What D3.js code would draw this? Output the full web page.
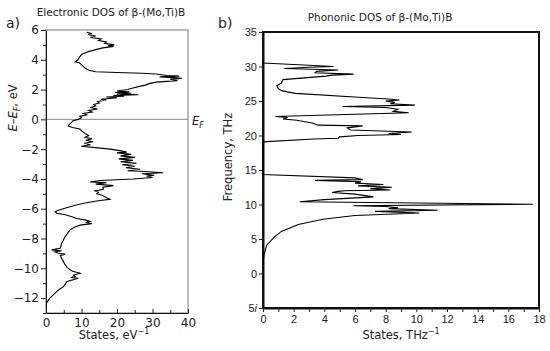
<!DOCTYPE html>
<html>
<head>
<meta charset="utf-8">
<script src="https://cdn.jsdelivr.net/npm/d3@7"></script>
<style>
  body { margin: 0; background: #fff; }
  svg { display: block; }
  .lbl { font-family: "DejaVu Sans", Verdana, sans-serif; fill: #222; }
</style>
</head>
<body>
<div id="chart"></div>
<script>
// Electronic DOS: [energy E-EF (eV), states (1/eV)], read top to bottom
const electronicDos = [
  [5.85, 11.5], [5.75, 13], [5.7, 11.8], [5.6, 14], [5.5, 12.5], [5.4, 15.5], [5.3, 14.8],
  [5.2, 17], [5.1, 16.5], [5.0, 19.2], [4.95, 17.5], [4.9, 19], [4.8, 16], [4.7, 14.3],
  [4.55, 12], [4.35, 10], [4.2, 9.5], [4.0, 9], [3.85, 8.2], [3.8, 9.4], [3.6, 10.3],
  [3.45, 11], [3.3, 12], [3.2, 14], [3.15, 20], [3.1, 27], [3.05, 31], [2.95, 34],
  [2.9, 37.5], [2.85, 32], [2.8, 36], [2.75, 38.2], [2.7, 35], [2.6, 37], [2.5, 31],
  [2.4, 29], [2.3, 28], [2.2, 26], [2.1, 24.5], [2.0, 23], [1.9, 20], [1.85, 23.5],
  [1.8, 19.5], [1.75, 24], [1.7, 20], [1.65, 26], [1.6, 19], [1.55, 22], [1.5, 17],
  [1.45, 20], [1.35, 15.5], [1.3, 17], [1.2, 14.5], [1.1, 15], [1.0, 13.5], [0.9, 14],
  [0.8, 12.5], [0.7, 14.5], [0.6, 12], [0.5, 13], [0.4, 10.5], [0.3, 11.5], [0.2, 9.5],
  [0.1, 10], [0.0, 9], [-0.1, 7.5], [-0.2, 7.2], [-0.35, 6.5], [-0.45, 6.3], [-0.55, 7.5],
  [-0.65, 9.5], [-0.8, 10.2], [-0.95, 11], [-1.1, 12], [-1.2, 11], [-1.3, 13], [-1.4, 11.2],
  [-1.5, 13.2], [-1.6, 10.8], [-1.7, 12.5], [-1.8, 9.9], [-1.9, 14], [-2.0, 18], [-2.1, 20.8],
  [-2.2, 22.7], [-2.25, 20], [-2.35, 24], [-2.45, 21], [-2.55, 25], [-2.65, 20.5],
  [-2.75, 24.5], [-2.85, 21], [-2.95, 25.5], [-3.05, 21.5], [-3.15, 25], [-3.25, 22.5],
  [-3.35, 26.5], [-3.45, 23], [-3.5, 28], [-3.58, 33], [-3.65, 27], [-3.75, 30.5],
  [-3.8, 28.3], [-3.9, 30], [-4.0, 24.6], [-4.1, 15.2], [-4.2, 12.4], [-4.25, 17],
  [-4.35, 14], [-4.45, 19], [-4.55, 16], [-4.7, 16.2], [-4.8, 13.8], [-4.9, 14.8],
  [-5.0, 14.3], [-5.1, 15.8], [-5.26, 17.1], [-5.37, 18], [-5.45, 15.2], [-5.6, 11.4],
  [-5.75, 8.5], [-5.93, 5.8], [-6.1, 3.5], [-6.2, 2.6], [-6.3, 3], [-6.4, 5.5], [-6.55, 7.5],
  [-6.65, 8.6], [-6.75, 11], [-6.85, 12.4], [-6.92, 11.2], [-7.0, 12.9], [-7.1, 9.6],
  [-7.25, 8], [-7.42, 6.8], [-7.6, 6.2], [-7.87, 5.4], [-8.1, 4.9], [-8.32, 4.4],
  [-8.5, 4.2], [-8.65, 4], [-8.76, 1.6], [-8.82, 4.4], [-8.9, 2.5], [-8.99, 3.5],
  [-9.05, 5.4], [-9.15, 4], [-9.32, 4.4], [-9.5, 4.8], [-9.77, 5.4], [-9.95, 6],
  [-10.1, 6.8], [-10.2, 7.5], [-10.33, 9.6], [-10.45, 7.8], [-10.55, 8.2], [-10.62, 7],
  [-10.67, 9.1], [-10.9, 5.8], [-11.05, 5.5], [-11.23, 4.9], [-11.4, 3.8], [-11.56, 3],
  [-11.8, 2], [-12.0, 1.1], [-12.2, 0.5], [-12.35, 0.1]
];

// Phononic DOS: [frequency (THz), states (1/THz)], read top to bottom
const phononicDos = [
  [30.5, 0], [30.0, 4.6], [29.9, 3], [29.7, 1.4], [29.5, 4.9], [29.3, 3.5], [29.1, 3.4],
  [28.9, 5.9], [28.75, 4.5], [28.6, 4.1], [28.1, 1.3], [27.6, 1.2], [27.2, 0.9], [26.8, 1.0],
  [26.5, 1.2], [26.1, 2.1], [25.5, 6.5], [25.3, 8.2], [25.15, 8.9], [25.0, 8.0], [24.8, 8.6],
  [24.6, 8.3], [24.4, 9.9], [24.2, 5.2], [24.05, 8.0], [23.8, 8.8], [23.5, 8.5], [23.3, 9.5],
  [22.75, 0.8], [22.6, 1.6], [22.4, 1.3], [22.2, 2.2], [21.8, 3.2], [21.5, 3.6], [21.4, 6.5],
  [21.1, 5.5], [20.8, 5.7], [20.5, 9.7], [20.3, 8.2], [20.14, 9.0], [20.0, 6.2], [19.8, 5.0],
  [19.6, 4.9], [19.5, 3.3], [19.08, 0], [14.35, 0], [13.86, 6.0], [13.6, 6.5], [13.5, 3.4],
  [13.3, 6.4], [13.1, 6.0], [12.9, 7.85], [12.7, 6.2], [12.5, 8.4], [12.3, 7.0], [12.1, 8.3],
  [12.0, 5.3], [11.9, 4.9], [11.75, 4.5], [11.5, 6.0], [11.1, 7.2], [10.7, 4.0], [10.4, 2.4],
  [10.04, 17.6], [9.82, 5.9], [9.7, 8.0], [9.54, 8.8], [9.4, 8.2], [9.17, 11.4], [9.0, 7.3],
  [8.76, 10.2], [8.4, 6.0], [7.87, 3.9], [7.1, 2.3], [6.1, 1.2], [5.3, 0.75], [4.1, 0.24],
  [2.67, 0.06], [1.2, 0]
];

// Tick values
const elecXTicks = [0, 10, 20, 30, 40];
const elecXMinor = [5, 15, 25, 35];
const elecYTicks = [-12, -10, -8, -6, -4, -2, 0, 2, 4, 6];
const elecYMinor = [-13, -11, -9, -7, -5, -3, -1, 1, 3, 5];
const phonXTicks = d3.range(0, 19, 1);
const phonYTicks = [-5, 0, 5, 10, 15, 20, 25, 30, 35];

const W = 550, H = 351;
const svg = d3.select("#chart").append("svg").attr("width", W).attr("height", H);

// ---------- panel a ----------
const ax = d3.scaleLinear().domain([0, 40]).range([46, 188]);
const ay = d3.scaleLinear().domain([-13, 6]).range([313, 30]);
const aFont = '"DejaVu Sans", Verdana, sans-serif';

// frame
svg.append("rect")
  .attr("x", ax(0)).attr("y", ay(6))
  .attr("width", ax(40) - ax(0)).attr("height", ay(-13) - ay(6))
  .attr("fill", "none").attr("stroke", "#777").attr("stroke-width", 1);

// Fermi level
svg.append("line")
  .attr("x1", ax(0)).attr("x2", ax(40))
  .attr("y1", ay(0)).attr("y2", ay(0))
  .attr("stroke", "#888").attr("stroke-width", 1);

function styleAxis(g, font, size, width) {
  g.selectAll("text").style("font-family", font).style("font-size", size + "px").attr("fill", "#222");
  g.selectAll("line").attr("stroke", "#222");
  g.select(".domain").attr("stroke", "#111").attr("stroke-width", width);
}

const aLeft = svg.append("g").attr("transform", `translate(${ax(0)},0)`)
  .call(d3.axisLeft(ay).tickValues(elecYTicks).tickSize(5).tickPadding(2).tickSizeOuter(0));
styleAxis(aLeft, aFont, 12, 1);
svg.append("g").attr("transform", `translate(${ax(0)},0)`)
  .call(d3.axisLeft(ay).tickValues(elecYMinor).tickSize(3).tickFormat("").tickSizeOuter(0))
  .call(g => { g.select(".domain").remove(); g.selectAll("line").attr("stroke", "#222"); });

const aBottom = svg.append("g").attr("transform", `translate(0,${ay(-13)})`)
  .call(d3.axisBottom(ax).tickValues(elecXTicks).tickSizeInner(-4).tickSizeOuter(0).tickPadding(5));
styleAxis(aBottom, aFont, 12, 1);
svg.append("g").attr("transform", `translate(0,${ay(-13)})`)
  .call(d3.axisBottom(ax).tickValues(elecXMinor).tickSizeInner(-3).tickFormat("").tickSizeOuter(0))
  .call(g => { g.select(".domain").remove(); g.selectAll("line").attr("stroke", "#222"); });

const lineA = d3.line().x(d => ax(d[1])).y(d => ay(d[0]));
svg.append("path").datum(electronicDos)
  .attr("d", lineA).attr("fill", "none").attr("stroke", "#000").attr("stroke-width", 1.1)
  .attr("stroke-linejoin", "miter");

// labels panel a
svg.append("text").attr("class", "lbl").attr("x", 111).attr("y", 16)
  .attr("text-anchor", "middle").style("font-size", "10.5px")
  .text("Electronic DOS of β-(Mo,Ti)B");
svg.append("text").attr("class", "lbl").attr("x", 6).attr("y", 28)
  .style("font-size", "14px").text("a)");
svg.append("text").attr("class", "lbl").attr("x", 114).attr("y", 339)
  .attr("text-anchor", "middle").style("font-size", "11.5px")
  .text("States, eV").append("tspan").attr("dy", -5).style("font-size", "8px").text("−1");
const yLabA = svg.append("text").attr("class", "lbl")
  .attr("transform", "translate(17,108) rotate(-90)")
  .attr("text-anchor", "middle").style("font-size", "11.5px");
yLabA.append("tspan").style("font-style", "italic").text("E");
yLabA.append("tspan").text("–");
yLabA.append("tspan").style("font-style", "italic").text("E");
yLabA.append("tspan").attr("dy", 3).style("font-size", "8px").style("font-style", "italic").text("F");
yLabA.append("tspan").attr("dy", -3).text(", eV");
const efLab = svg.append("text").attr("class", "lbl").attr("x", 192).attr("y", 125)
  .style("font-size", "11.5px");
efLab.append("tspan").style("font-style", "italic").text("E");
efLab.append("tspan").attr("dy", 3).style("font-size", "8px").style("font-style", "italic").text("F");

// ---------- panel b ----------
const bx = d3.scaleLinear().domain([0, 18]).range([263, 539]);
const by = d3.scaleLinear().domain([-5, 35]).range([308, 32]);
const bFont = '"Liberation Sans", Arial, sans-serif';

svg.append("rect")
  .attr("x", bx(0)).attr("y", by(35))
  .attr("width", bx(18) - bx(0)).attr("height", by(-5) - by(35))
  .attr("fill", "none").attr("stroke", "#111").attr("stroke-width", 2);

const bLeft = svg.append("g").attr("transform", `translate(${bx(0)},0)`)
  .call(d3.axisLeft(by).tickValues(phonYTicks).tickSize(4).tickPadding(2).tickSizeOuter(0)
    .tickFormat(d => d < 0 ? "" : d));
styleAxis(bLeft, bFont, 11, 2);
bLeft.selectAll(".tick").filter(d => d < 0).select("text")
  .call(t => { t.append("tspan").text(String(-phonYTicks[0])); t.append("tspan").style("font-style", "italic").text("i"); });

const bBottom = svg.append("g").attr("transform", `translate(0,${by(-5)})`)
  .call(d3.axisBottom(bx).tickValues(phonXTicks).tickSize(4).tickPadding(3).tickSizeOuter(0)
    .tickFormat(d => d % 2 === 0 ? d : ""));
styleAxis(bBottom, bFont, 11, 2);

const lineB = d3.line().x(d => bx(d[1])).y(d => by(d[0]));
svg.append("path").datum(phononicDos)
  .attr("d", lineB).attr("fill", "none").attr("stroke", "#000").attr("stroke-width", 1.1);

svg.append("text").attr("class", "lbl").attr("x", 380).attr("y", 21)
  .attr("text-anchor", "middle").style("font-size", "10.5px")
  .text("Phononic DOS of β-(Mo,Ti)B");
svg.append("text").attr("class", "lbl").attr("x", 218).attr("y", 28)
  .style("font-size", "14px").text("b)");
svg.append("text").attr("class", "lbl").attr("x", 401).attr("y", 339)
  .attr("text-anchor", "middle").style("font-size", "11.5px")
  .text("States, THz").append("tspan").attr("dy", -5).style("font-size", "8px").text("−1");
svg.append("text").attr("class", "lbl")
  .attr("transform", "translate(232,157) rotate(-90)")
  .attr("text-anchor", "middle").style("font-size", "11.5px")
  .text("Frequency, THz");
</script>
</body>
</html>
